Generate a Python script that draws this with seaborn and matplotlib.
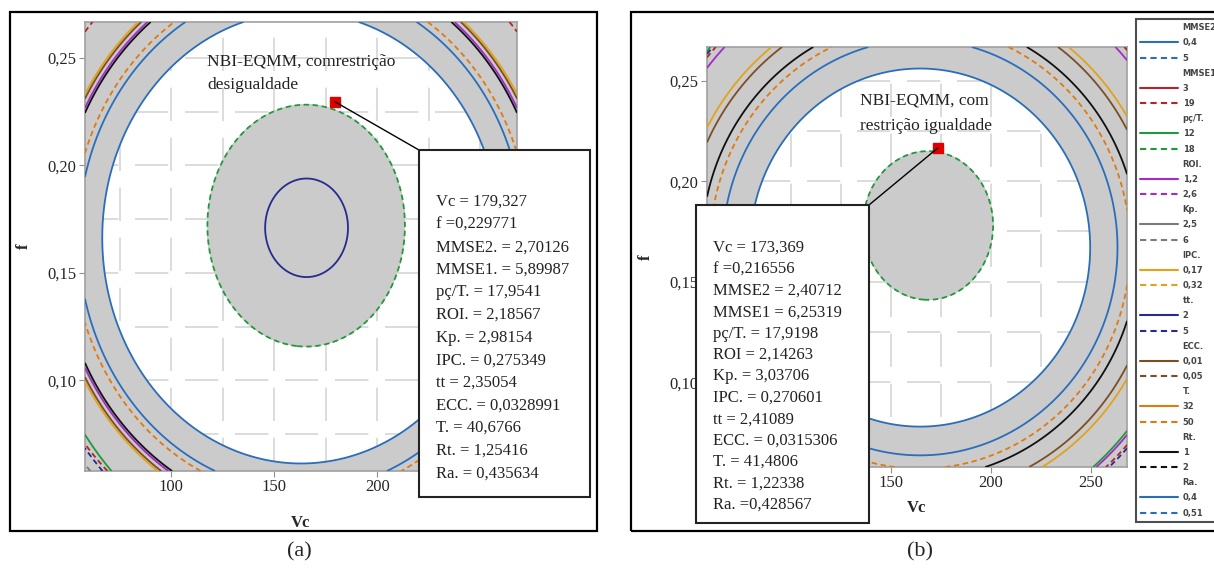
import numpy as np
import matplotlib
matplotlib.use('Agg')
import matplotlib.pyplot as plt
from matplotlib.lines import Line2D
from matplotlib.patches import Rectangle, ConnectionPatch
from matplotlib.ticker import FuncFormatter, MultipleLocator
import seaborn as sns

# responses and their lower / upper contour levels (legend)
responses = ['MMSE2', 'MMSE1', 'pç/T.', 'ROI.', 'Kp.', 'IPC.', 'tt.', 'ECC.', 'T.', 'Rt.', 'Ra.']
lower = [0.4, 3, 12, 1.2, 2.5, 0.17, 2, 0.01, 32, 1, 0.4]
upper = [5, 19, 18, 2.6, 6, 0.32, 5, 0.05, 50, 2, 0.51]

# quadratic response models: y = b0 + b2 * g,
# g = ((Vc - vc0) / svc)^2 + ((f - f0) / sf)^2
# panel (a) - inequality constraint
a_vc0 = [163, 163, 165.5, 163, 163, 163, 165.7, 163, 163, 163, 163]
a_f0 = [0.1663, 0.1663, 0.172, 0.1663, 0.1663, 0.1663, 0.171, 0.1663, 0.1663, 0.1663, 0.1663]
a_svc = [96.6, 96.6, 48, 96.6, 96.6, 96.6, 20.1, 96.6, 96.6, 96.6, 96.6]
a_sf = [0.105, 0.105, 0.0563, 0.105, 0.105, 0.105, 0.0229, 0.105, 0.105, 0.105, 0.105]
a_b0 = [3.5, 5.5, 18.857, 2.2, 2.8, 0.29, 1.937, 0.04, 38, 1.6, 0.47]
a_b2 = [-2.471, 6.695, -0.857, -0.661, 1.461, -0.0756, 0.0628, -0.0192, 9.074, -0.4031, -0.07]

# panel (b) - equality constraint
b_vc0 = [164.5, 164.5, 168.5, 164.5, 164.5, 164.5, 164.5, 164.5, 164.5, 164.5, 164.5]
b_f0 = [0.167, 0.167, 0.178, 0.167, 0.167, 0.167, 0.167, 0.167, 0.167, 0.167, 0.167]
b_svc = [105, 105, 32.5, 105, 105, 105, 105, 105, 105, 105, 105]
b_sf = [0.110, 0.110, 0.037, 0.110, 0.110, 0.110, 0.110, 0.110, 0.110, 0.110, 0.110]
b_b0 = [3.2, 5.8, 18.375, 2.2, 2.9, 0.29, 2.2, 0.04, 38, 1.6, 0.47]
b_b2 = [-3.169, 7.462, -0.375, -0.592, 1.474, -0.0907, 1.559, -0.0239, 12.0, -0.5547, -0.1067]

# optimum points
opt_a = (179.327, 0.229771)
opt_b = (173.369, 0.216556)

lines_a = ['Vc = 179,327', 'f =0,229771', 'MMSE2. = 2,70126', 'MMSE1. = 5,89987',
           'pç/T. = 17,9541', 'ROI. = 2,18567', 'Kp. = 2,98154', 'IPC. = 0,275349',
           'tt = 2,35054', 'ECC. = 0,0328991', 'T. = 40,6766', 'Rt. = 1,25416',
           'Ra. = 0,435634']
lines_b = ['Vc = 173,369', 'f =0,216556', 'MMSE2 = 2,40712', 'MMSE1 = 6,25319',
           'pç/T. = 17,9198', 'ROI = 2,14263', 'Kp. = 3,03706', 'IPC. = 0,270601',
           'tt = 2,41089', 'ECC. = 0,0315306', 'T. = 41,4806', 'Rt. = 1,22338',
           'Ra. =0,428567']

colors = ['#2a6ebb', '#b5242a', '#1f9a3a', '#a22bc9', '#7a7a7a', '#e3a21a',
          '#262b8f', '#7d4e24', '#e07a10', '#111111', '#2a6ebb']

VC_LIM = (58, 268)
F_LIM = (0.0578, 0.2668)
GRAY = '#cbcbcb'
DASH = (0, (3, 2))

sns.set_style('white')
plt.rcParams['font.family'] = ['Liberation Serif', 'DejaVu Serif']


def comma(v):
    return str(v).replace('.', ',')


def draw_panel(ax, vc0, f0, svc, sf, b0, b2, hidden_x, xpad):
    vc = np.linspace(VC_LIM[0], VC_LIM[1], 400)
    ff = np.linspace(F_LIM[0], F_LIM[1], 400)
    VC, FF = np.meshgrid(vc, ff)
    fields = []
    viol = np.full(VC.shape, -np.inf)
    for i in range(len(responses)):
        g = ((VC - vc0[i]) / svc[i]) ** 2 + ((FF - f0[i]) / sf[i]) ** 2
        y = b0[i] + b2[i] * g
        fields.append(y)
        span = upper[i] - lower[i]
        viol = np.maximum(viol, np.maximum(y - upper[i], lower[i] - y) / span)

    # grey = infeasible region
    ax.contourf(VC, FF, viol, levels=[0, viol.max() + 1], colors=[GRAY], zorder=1)

    for i, y in enumerate(fields):
        for lev, ls in [(lower[i], 'solid'), (upper[i], DASH)]:
            if y.min() < lev < y.max():
                ax.contour(VC, FF, y, levels=[lev], colors=[colors[i]],
                           linewidths=1.3, linestyles=[ls], zorder=3)

    ax.set_xlim(VC_LIM)
    ax.set_ylim(F_LIM)
    ax.xaxis.set_major_locator(MultipleLocator(50))
    ax.xaxis.set_minor_locator(MultipleLocator(25))
    ax.yaxis.set_major_locator(MultipleLocator(0.05))
    ax.yaxis.set_minor_locator(MultipleLocator(0.025))
    # labels under the result box are not drawn
    ax.xaxis.set_major_formatter(FuncFormatter(
        lambda v, p: '' if round(v) == hidden_x else f'{v:.0f}'))
    ax.yaxis.set_major_formatter(FuncFormatter(lambda v, p: f'{v:.2f}'.replace('.', ',')))
    ax.set_axisbelow(True)
    ax.grid(True, which='both', color='#d6d6d6', linestyle=(0, (20, 10)), linewidth=1.2)
    ax.tick_params(which='major', direction='out', length=4, color='#909090',
                   labelsize=12, pad=2, bottom=True, left=True)
    ax.tick_params(which='minor', length=0)
    for s in ax.spines.values():
        s.set_color('#a0a0a0')
        s.set_linewidth(1.2)
    ax.set_xlabel('Vc', fontsize=12, fontweight='bold', labelpad=xpad)
    ax.set_ylabel('f', fontsize=12, fontweight='bold', labelpad=11)


fig = plt.figure(figsize=(12.14, 5.68), dpi=100)

# panel frames
fig.add_artist(Rectangle((0.0082, 0.0651), 0.4835, 0.9137, transform=fig.transFigure,
                         fill=False, edgecolor='black', linewidth=1.6, zorder=0))
fig.add_artist(Rectangle((0.5198, 0.0651), 0.49, 0.9137, transform=fig.transFigure,
                         fill=False, edgecolor='black', linewidth=1.6, zorder=0))

ax_a = fig.add_axes([0.0700, 0.1708, 0.3559, 0.7905])
ax_b = fig.add_axes([0.5824, 0.1778, 0.3460, 0.7394])

draw_panel(ax_a, a_vc0, a_f0, a_svc, a_sf, a_b0, a_b2, 250, 14)
draw_panel(ax_b, b_vc0, b_f0, b_svc, b_sf, b_b0, b_b2, 100, 6)

for ax, opt in [(ax_a, opt_a), (ax_b, opt_b)]:
    ax.plot([opt[0]], [opt[1]], marker='s', color='#e00000', markersize=6.5, zorder=6)

# annotations above the optimum
fig.text(0.1705, 0.8908, 'NBI-EQMM, comrestrição', fontsize=12.5, va='center', color='#222')
fig.text(0.1705, 0.8504, 'desigualdade', fontsize=12.5, va='center', color='#222')
fig.text(0.7084, 0.8239, 'NBI-EQMM, com', fontsize=12.5, va='center', color='#222')
fig.text(0.7084, 0.7782, 'restrição igualdade', fontsize=12.5, va='center', color='#222')

# result boxes with leader lines
boxes = [(ax_a, opt_a, (0.3451, 0.125, 0.1409, 0.6109), (0.3451, 0.7359),
          lines_a, 0.3591, 0.6444, 0.0398),
         (ax_b, opt_b, (0.5733, 0.0792, 0.1425, 0.5599), (0.7158, 0.6391),
          lines_b, 0.5873, 0.5634, 0.0377)]
for ax, opt, rect, corner, lines, tx, ty, dy in boxes:
    fig.add_artist(ConnectionPatch(xyA=opt, coordsA=ax.transData, xyB=corner,
                                   coordsB=fig.transFigure, color='black',
                                   linewidth=1.0, zorder=5))
    fig.add_artist(Rectangle(rect[:2], rect[2], rect[3], transform=fig.transFigure,
                             facecolor='white', edgecolor='#222', linewidth=1.5, zorder=5))
    for k, s in enumerate(lines):
        fig.text(tx, ty - k * dy, s, fontsize=12, va='center', color='#222', zorder=6)

# legend of contour levels
handles = []
labels = []
for i, name in enumerate(responses):
    handles.append(Line2D([], [], color='none'))
    labels.append(name)
    handles.append(Line2D([], [], color=colors[i], linewidth=1.5))
    labels.append(comma(lower[i]))
    handles.append(Line2D([], [], color=colors[i], linewidth=1.5, linestyle=DASH))
    labels.append(comma(upper[i]))
leg = fig.legend(handles, labels, loc='upper left', bbox_to_anchor=(0.9357, 0.9665),
                 frameon=True, fancybox=False, edgecolor='#222', borderaxespad=0,
                 handlelength=4.6, handletextpad=0.5, labelspacing=0.74,
                 borderpad=0.5, prop={'family': 'DejaVu Sans', 'size': 6, 'weight': 'bold'})
leg.get_frame().set_linewidth(1.5)
for t in leg.get_texts():
    t.set_color('#444')

fig.text(0.247, 0.028, '(a)', fontsize=16, ha='center', va='center')
fig.text(0.758, 0.028, '(b)', fontsize=16, ha='center', va='center')

fig.savefig('out.png', dpi=100)
